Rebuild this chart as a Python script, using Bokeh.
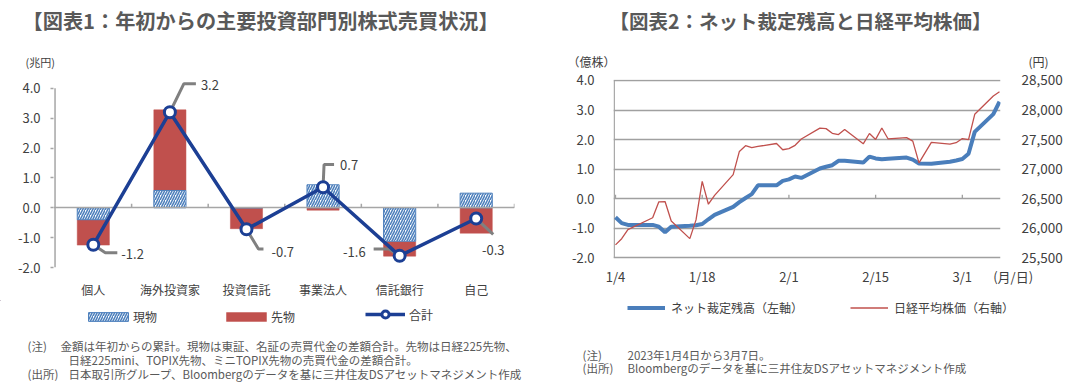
import datetime as dt
from bokeh.plotting import figure
from bokeh.layouts import row, column
from bokeh.models import (Range1d, LinearAxis, FixedTicker, NumeralTickFormatter,
                          Legend, LegendItem, ColumnDataSource)
from bokeh.core.properties import value
from bokeh.embed import file_html
from bokeh.resources import INLINE

FONT = "Noto Sans CJK JP"
TXT = "#404040"
NOTE = "#595959"

# ---------------- Chart 1 data ----------------
categories = ["個人", "海外投資家", "投資信託", "事業法人", "信託銀行", "自己"]
cash = [-0.40, 0.58, 0.0, 0.77, -1.12, 0.49]          # 現物
futures = [-0.85, 2.70, -0.70, -0.08, -0.50, -0.85]   # 先物
total = [-1.24, 3.20, -0.72, 0.69, -1.61, -0.36]      # 合計
total_labels = ["-1.2", "3.2", "-0.7", "0.7", "-1.6", "-0.3"]
y1_ticks = [-2, -1, 0, 1, 2, 3, 4]

# ---------------- Chart 2 data ----------------
dates = ["2023-01-04", "2023-01-05", "2023-01-06", "2023-01-10", "2023-01-11", "2023-01-12",
         "2023-01-13", "2023-01-16", "2023-01-17", "2023-01-18", "2023-01-19", "2023-01-20",
         "2023-01-23", "2023-01-24", "2023-01-25", "2023-01-26", "2023-01-27", "2023-01-30",
         "2023-01-31", "2023-02-01", "2023-02-02", "2023-02-03", "2023-02-06", "2023-02-07",
         "2023-02-08", "2023-02-09", "2023-02-10", "2023-02-13", "2023-02-14", "2023-02-15",
         "2023-02-16", "2023-02-17", "2023-02-20", "2023-02-21", "2023-02-22", "2023-02-24",
         "2023-02-27", "2023-02-28", "2023-03-01", "2023-03-02", "2023-03-03", "2023-03-06",
         "2023-03-07"]
arb = [-0.63, -0.83, -0.89, -0.89, -0.95, -1.14, -0.95, -0.92, -0.90, -0.86,
       -0.70, -0.55, -0.28, -0.12, 0.02, 0.15, 0.45, 0.45, 0.60,
       0.65, 0.75, 0.70, 1.02, 1.08, 1.13, 1.28, 1.28, 1.22, 1.42, 1.36, 1.33, 1.35,
       1.39, 1.32, 1.19, 1.18, 1.25, 1.29,
       1.34, 1.52, 2.26, 2.86, 3.28]
nikkei = [25717, 25821, 25974, 26176, 26446, 26450, 26120, 25822, 26139, 26791,
          26405, 26554, 26906, 27299, 27395, 27363, 27383, 27433, 27327,
          27347, 27402, 27509, 27694, 27685, 27606, 27584, 27671, 27427, 27603, 27502,
          27696, 27513, 27532, 27473, 27104, 27453, 27424, 27446,
          27517, 27499, 27927, 28238, 28309]
x2_tick_dates = ["2023-01-04", "2023-01-18", "2023-02-01", "2023-02-15", "2023-03-01"]
x2_tick_labels = ["1/4", "1/18", "2/1", "2/15", "3/1"]
x2_unit = "(月/日)"
y2_ticks = [-2, -1, 0, 1, 2, 3, 4]
nk_ticks = [25500, 26000, 26500, 27000, 27500, 28000, 28500]

# ---------------- styles ----------------
CASH_STYLE = dict(fill_color="white", line_color="#4f81bd", line_width=1, hatch_pattern="/",
                  hatch_color="#4f81bd", hatch_weight=1.6, hatch_scale=5)
FUT_STYLE = dict(fill_color="#c0504d", line_color="#c0504d", line_width=0.5)
TOT_LINE = dict(line_color="#1c3f94", line_width=3.5)
TOT_MARK = dict(fill_color="white", line_color="#1c3f94", line_width=3)
ARB_STYLE = dict(line_color="#4a7ebb", line_width=4)
NK_STYLE = dict(line_color="#c0504d", line_width=1.3)
AX_GRAY = "#a6a6a6"

PAGE_W = 1087
HEAD_H, CHART_H, FOOT_H = 70, 230, 91
CHART_TOP = HEAD_H
FOOT_TOP = HEAD_H + CHART_H
FRAME_TOP, FRAME_BOT = 79, 270


def text_canvas(width, height, top):
    f = figure(width=width, height=height, x_range=Range1d(0, width),
               y_range=Range1d(top + height, top), output_backend="svg", toolbar_location=None,
               x_axis_type=None, y_axis_type=None, min_border=0, title=None)
    f.outline_line_color = None
    f.grid.visible = False
    return f


def put_texts(f, items, size, color, bold=False):
    src = ColumnDataSource(dict(x=[i[1] for i in items], y=[i[2] for i in items],
                                t=[i[0] for i in items],
                                al=[i[3] if len(i) > 3 else "left" for i in items]))
    f.text(x="x", y="y", text="t", text_align="al", text_baseline="middle", source=src,
           text_font=value(FONT), text_font_size=f"{size}px", text_color=color,
           text_font_style="bold" if bold else "normal")


# ================= header =================
head = text_canvas(PAGE_W, HEAD_H, 0)
put_texts(head, [("【図表1：年初からの主要投資部門別株式売買状況】", 22, 20)], 20.2, NOTE, bold=True)
put_texts(head, [("【図表2：ネット裁定残高と日経平均株価】", 800, 20, "center")], 19.5, NOTE, bold=True)
put_texts(head, [("(兆円)", 25, 61.5)], 11, TXT)
put_texts(head, [("（億株）", 567, 60.5), ("(円)", 1028, 60.5)], 12, TXT)

# ================= Chart 1 =================
C1_W, C1_L, C1_R = 540, 53, 514
Y1PX = (FRAME_BOT - 88) / 6.0
x1_start, x1_end = -0.52, 5.5
XPX1 = (C1_R - C1_L) / (x1_end - x1_start)

p1 = figure(width=C1_W, height=CHART_H, x_range=Range1d(x1_start, x1_end),
            y_range=Range1d(-2, 4 + (88 - FRAME_TOP) / Y1PX), title=None,
            output_backend="svg", toolbar_location=None,
            min_border_left=C1_L, min_border_right=C1_W - C1_R,
            min_border_top=FRAME_TOP - CHART_TOP, min_border_bottom=CHART_TOP + CHART_H - FRAME_BOT)
p1.outline_line_color = None
p1.xgrid.visible = False
p1.ygrid.visible = False

xs1 = list(range(len(categories)))
fut_bottom = [c if c * f > 0 else 0.0 for c, f in zip(cash, futures)]
fut_top = [b + f for b, f in zip(fut_bottom, futures)]

p1.vbar(x=xs1, bottom=fut_bottom, top=fut_top, width=0.42, **FUT_STYLE)
p1.vbar(x=xs1, bottom=0, top=cash, width=0.42, **CASH_STYLE)
p1.hspan(y=[0], line_color=AX_GRAY, line_width=1.5)
bx = [i + 0.5 for i in xs1]
p1.segment(x0=bx, y0=0, x1=bx, y1=4 / Y1PX, line_color=AX_GRAY, line_width=1.5)
p1.segment(x0=[-0.5], y0=[y1_ticks[0]], x1=[-0.5], y1=[y1_ticks[-1]], line_color=AX_GRAY, line_width=1.5)

leader_px = [[(0, 0), (12, 8), (24, 8)],
             [(0, 0), (14, -29), (26, -29)],
             [(0, 0), (12, 20), (17, 20)],
             [(0, 0), (1, -23), (11, -23)],
             [(0, 0), (-11, -7), (-26, -7)],
             [(0, 0), (17, 16)]]
lxs = [[x + dx / XPX1 for dx, dy in pts] for x, pts in zip(xs1, leader_px)]
lys = [[v - dy / Y1PX for dx, dy in pts] for v, pts in zip(total, leader_px)]
p1.multi_line(lxs, lys, line_color="#808080", line_width=3)

p1.line(xs1, total, **TOT_LINE)
p1.scatter(xs1, total, size=11, **TOT_MARK)

lab_src = ColumnDataSource(dict(x=xs1, y=total, t=total_labels,
                                dx=[28, 31, 25, 17, -34, 17], dy=[9, -27, 23, -22, -4, 31],
                                al=["left", "left", "left", "left", "right", "center"]))
p1.text(x="x", y="y", text="t", x_offset="dx", y_offset="dy", text_align="al",
        text_baseline="middle", text_font=value(FONT), text_font_size="13px",
        text_color=TXT, source=lab_src)

p1.yaxis.ticker = FixedTicker(ticks=y1_ticks)
p1.yaxis.formatter = NumeralTickFormatter(format="0.0")
p1.yaxis.axis_line_color = None
p1.yaxis.major_tick_line_color = AX_GRAY
p1.yaxis.major_tick_line_width = 1.5
p1.yaxis.major_tick_out = 3
p1.yaxis.major_tick_in = 0
p1.yaxis.minor_tick_line_color = None
p1.yaxis.major_label_standoff = 10
p1.yaxis.major_label_text_font = FONT
p1.yaxis.major_label_text_font_size = "13px"
p1.yaxis.major_label_text_color = TXT

p1.xaxis.ticker = FixedTicker(ticks=xs1)
p1.xaxis.major_label_overrides = {i: c for i, c in zip(xs1, categories)}
p1.xaxis.axis_line_color = None
p1.xaxis.major_tick_line_color = None
p1.xaxis.minor_tick_line_color = None
p1.xaxis.major_label_standoff = 7
p1.xaxis.major_label_text_font = FONT
p1.xaxis.major_label_text_font_size = "12px"
p1.xaxis.major_label_text_color = TXT

# ================= Chart 2 =================
C2_W, C2_L, C2_R = PAGE_W - C1_W, 613, 1000
Y2PX = (260 - 80) / 6.0
d0 = dt.date.fromisoformat(dates[0])
xs2 = [(dt.date.fromisoformat(s) - d0).days for s in dates]
tick_x2 = [(dt.date.fromisoformat(s) - d0).days for s in x2_tick_dates]
XPX2 = (999 - 615) / (xs2[-1] - xs2[0])
x2_start = xs2[0] - (615 - C2_L) / XPX2
x2_end = xs2[-1] + (C2_R - 999) / XPX2
y2_start = -2 - (FRAME_BOT - 260) / Y2PX
y2_end = 4 + (80 - FRAME_TOP) / Y2PX
nk_per_px = (nk_ticks[-1] - nk_ticks[0]) / 180.0

p2 = figure(width=C2_W, height=CHART_H, x_range=Range1d(x2_start, x2_end),
            y_range=Range1d(y2_start, y2_end), title=None,
            output_backend="svg", toolbar_location=None,
            min_border_left=C2_L - C1_W, min_border_right=PAGE_W - C2_R,
            min_border_top=FRAME_TOP - CHART_TOP, min_border_bottom=CHART_TOP + CHART_H - FRAME_BOT)
p2.outline_line_color = None
p2.extra_y_ranges = {"nk": Range1d(nk_ticks[0] - (FRAME_BOT - 260) * nk_per_px,
                                   nk_ticks[-1] + (80 - FRAME_TOP) * nk_per_px)}
p2.xgrid.visible = False
p2.ygrid.ticker = FixedTicker(ticks=y2_ticks)
p2.ygrid.grid_line_color = "#a0a0a0"
p2.ygrid.grid_line_width = 1.3

ax_x = x2_start + 0.12
p2.segment(x0=[ax_x], y0=[y2_ticks[0]], x1=[ax_x], y1=[y2_ticks[-1]], line_color="#a0a0a0", line_width=1.3)
p2.segment(x0=tick_x2, y0=0, x1=tick_x2, y1=4 / Y2PX, line_color="#a0a0a0", line_width=1.3)
p2.line(xs2, arb, **ARB_STYLE)
p2.line(xs2, nikkei, y_range_name="nk", **NK_STYLE)

p2.yaxis.ticker = FixedTicker(ticks=y2_ticks)
p2.yaxis.formatter = NumeralTickFormatter(format="0.0")
p2.yaxis.axis_line_color = None
p2.yaxis.major_tick_line_color = None
p2.yaxis.minor_tick_line_color = None
p2.yaxis.major_label_standoff = 13
p2.yaxis.major_label_text_font = FONT
p2.yaxis.major_label_text_font_size = "13px"
p2.yaxis.major_label_text_color = TXT

ax_r = LinearAxis(y_range_name="nk", ticker=FixedTicker(ticks=nk_ticks),
                  formatter=NumeralTickFormatter(format="0,0"))
ax_r.axis_line_color = None
ax_r.major_tick_line_color = None
ax_r.minor_tick_line_color = None
ax_r.major_label_standoff = 15
ax_r.major_label_text_font = FONT
ax_r.major_label_text_font_size = "13.5px"
ax_r.major_label_text_color = TXT
p2.add_layout(ax_r, "right")

unit_tick = x2_end - 0.06
p2.xaxis.ticker = FixedTicker(ticks=tick_x2 + [unit_tick])
overrides = {x: l for x, l in zip(tick_x2, x2_tick_labels)}
overrides[unit_tick] = "\u2003\u2003" + x2_unit
p2.xaxis.major_label_overrides = overrides
p2.xaxis.axis_line_color = None
p2.xaxis.major_tick_line_color = None
p2.xaxis.minor_tick_line_color = None
p2.xaxis.major_label_standoff = -7
p2.xaxis.major_label_text_font = FONT
p2.xaxis.major_label_text_font_size = "13px"
p2.xaxis.major_label_text_color = TXT

# ================= footer (legends + notes) =================
foot = text_canvas(PAGE_W, FOOT_H, FOOT_TOP)
OFF = -10000  # legend proxies: one point far outside the visible area
r_cash = foot.vbar(x=[OFF], top=[OFF], width=1, **CASH_STYLE)
r_fut = foot.vbar(x=[OFF], top=[OFF], width=1, **FUT_STYLE)
r_tl = foot.line(x=[OFF, OFF - 1], y=[OFF, OFF], **TOT_LINE)
r_tm = foot.scatter(x=[OFF], y=[OFF], size=11, **TOT_MARK)
r_arb = foot.line(x=[OFF, OFF - 1], y=[OFF, OFF], **ARB_STYLE)
r_nk = foot.line(x=[OFF, OFF - 1], y=[OFF, OFF], **NK_STYLE)

leg_common = dict(padding=0, margin=0, border_line_color=None, background_fill_alpha=0,
                  label_text_font=FONT, label_text_font_size="12px", label_text_color=TXT,
                  orientation="horizontal")
FB = FOOT_TOP + FOOT_H
ITEM_H = 17  # approximate height of a legend row (text height dominates)


def add_leg(label, rends, left, top, gw, gh, standoff):
    h = max(gh, ITEM_H)
    # legend location is the bottom-left corner, measured from the frame's bottom-left
    foot.add_layout(Legend(items=[LegendItem(label=label, renderers=rends)],
                           location=(left, FB - (top + h)), glyph_width=gw, glyph_height=gh,
                           label_height=gh, label_standoff=standoff, **leg_common))


add_leg("現物", [r_cash], 83, 308, 50, 11, 0)
add_leg("先物", [r_fut], 221, 308, 50, 11, 0)
add_leg("合計", [r_tl, r_tm], 365, 305, 40, 18, 4)
add_leg("ネット裁定残高（左軸）", [r_arb], 627, 298.5, 38, 17, 6)
add_leg("日経平均株価（右軸）", [r_nk], 850, 298.5, 38, 17, 6)

put_texts(foot, [("(注)", 27, 345),
                 ("金額は年初からの累計。現物は東証、名証の売買代金の差額合計。先物は日経225先物、", 60, 345),
                 ("日経225mini、TOPIX先物、ミニTOPIX先物の売買代金の差額合計。", 68, 359),
                 ("(出所)", 27, 373),
                 ("日本取引所グループ、Bloombergのデータを基に三井住友DSアセットマネジメント作成", 68, 373),
                 ("(注)", 582, 354), ("2023年1月4日から3月7日。", 627, 354),
                 ("(出所)", 582, 367),
                 ("Bloombergのデータを基に三井住友DSアセットマネジメント作成", 627, 367)],
          11.5, NOTE)

layout = column(head, row(p1, p2), foot)
open("out.html", "w", encoding="utf-8").write(file_html(layout, INLINE, title="chart"))
